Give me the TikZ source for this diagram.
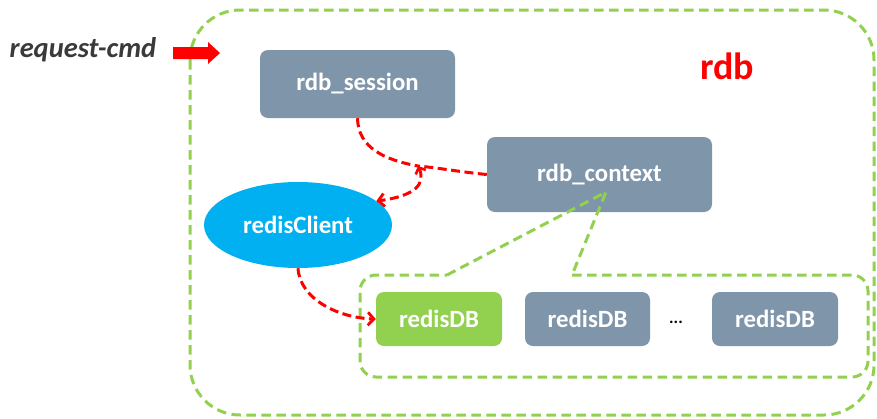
\documentclass[tikz,border=0pt]{standalone}
\usepackage{fontspec}
\setmainfont{Carlito}
\usetikzlibrary{arrows.meta,shapes.geometric}
\definecolor{boxgray}{HTML}{7F95AA}
\definecolor{dbgreen}{HTML}{92D050}
\definecolor{clientblue}{HTML}{00B0F0}
\definecolor{cmdtext}{HTML}{3A3A3A}
\tikzset{
  labelfont/.style={font=\fontsize{24.8}{26}\selectfont\bfseries},
  grayblock/.style={draw=none, fill=boxgray, rounded corners=8pt, text=white,
    labelfont, inner sep=0pt},
  greenblock/.style={grayblock, fill=dbgreen},
  greenline/.style={draw=dbgreen, line width=3pt, dash pattern=on 9.5pt off 5.5pt},
  redflow/.style={draw=red, line width=3pt, dash pattern=on 9pt off 4.5pt},
  redtip/.style={-{Straight Barb[length=6pt,width=13pt,line width=2.8pt]}},
}
\begin{document}
\begin{tikzpicture}[x=1pt,y=-1pt]
  \useasboundingbox (0,0) rectangle (877,418);

  % outer container
  \draw[greenline, rounded corners=50pt] (190,10) rectangle (874,415);

  % incoming request
  \node[font=\fontsize{28.5}{30}\selectfont\bfseries\itshape, text=cmdtext] (cmd) at (83,50) {request-cmd};
  \fill[red] (173,47) -- (208,47) -- (208,42) -- (220,53) -- (208,64) -- (208,59) -- (173,59) -- cycle;

  \node[font=\fontsize{38}{40}\selectfont\bfseries, text=red] (rdbtitle) at (727,66) {rdb};

  % components
  \node[grayblock, minimum width=195pt, minimum height=68pt] (session) at (357.5,84) {rdb\_session};
  \node[grayblock, minimum width=225pt, minimum height=75pt] (context) at (599.5,174.5) {rdb\_context};
  \node[ellipse, fill=clientblue, text=white, labelfont,
        minimum width=188pt, minimum height=86pt, inner sep=0pt] (client) at (298,225) {redisClient};

  \node[greenblock, minimum width=126pt, minimum height=54pt] (db1) at (439,319) {redisDB};
  \node[grayblock, minimum width=125pt, minimum height=54pt] (db2) at (587.5,319) {redisDB};
  \node[grayblock, minimum width=126pt, minimum height=54pt] (db3) at (775,319) {redisDB};
  \node[font=\fontsize{17}{18}\selectfont\bfseries] (dots) at (676,322) {...};

  % callout grouping the databases, pointing at rdb_context
  \coordinate (apex) at (606,192);
  \draw[greenline, rounded corners=16pt] (572,275) -- (868,275) -- (868,377) -- (360,377) -- (360,275) -- (447,275);
  \draw[greenline] (447,275) -- (apex) -- (572,275);

  % request flow
  \coordinate (join) at (418,166);
  \draw[redflow] (session.south) .. controls (358,148) and (385,160) .. (join);
  \draw[redflow] (context.west) .. controls (460,172) and (440,168) .. (join);
  \draw[redflow, {Straight Barb[length=5pt,width=11pt,line width=2.6pt]}-{Straight Barb[length=6pt,width=13pt,line width=2.8pt]}]
    (join) .. controls (426,184) and (415,196) .. (client.17);
  \draw[redflow, redtip] (client.south) .. controls (300,300) and (340,318) .. (db1.west);
\end{tikzpicture}
\end{document}
